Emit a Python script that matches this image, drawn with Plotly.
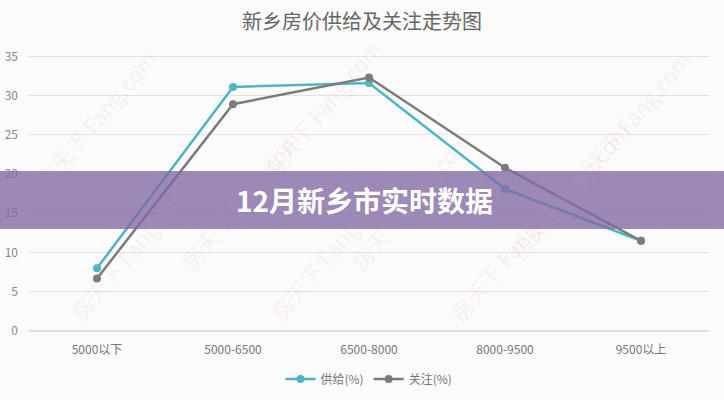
import plotly.graph_objects as go

categories = ["5000以下", "5000-6500", "6500-8000", "8000-9500", "9500以上"]
supply = [8.0, 31.1, 31.6, 18.1, 11.5]
attention = [6.7, 28.9, 32.3, 20.8, 11.5]
y_ticks = [0, 5, 10, 15, 20, 25, 30, 35]

title_text = "新乡房价供给及关注走势图"
band_text = "12月新乡市实时数据"

font_family = "Noto Sans CJK SC, Noto Sans, sans-serif"

fig = go.Figure()
fig.add_trace(go.Scatter(
    x=categories, y=supply, name="供给(%)", mode="lines+markers",
    line=dict(color="#4fb5bf", width=2.5),
    marker=dict(color="#4fb5bf", size=8),
))
fig.add_trace(go.Scatter(
    x=categories, y=attention, name="关注(%)", mode="lines+markers",
    line=dict(color="#7b7b7d", width=2.5),
    marker=dict(color="#7b7b7d", size=8),
))

W, H = 724, 400
ml, mr, mt, mb = 29, 15, 54, 69
pw, ph = W - ml - mr, H - mt - mb

# faint watermarks
wm_positions = [(25, 40), (250, 30), (700, 40), (170, 200), (410, 200),
                (640, 190), (60, 330), (330, 330), (580, 330)]
for (px, py) in wm_positions:
    fig.add_annotation(
        x=(px - ml) / pw, y=(H - mb - py) / ph, xref="paper", yref="paper",
        text="房天下 Fang.com", showarrow=False, textangle=-50,
        font=dict(family=font_family, size=22, color="rgba(225,150,150,0.12)"),
    )

fig.add_shape(
    type="rect", xref="paper", yref="paper",
    x0=-ml / pw, x1=1 + mr / pw,
    y0=(H - mb - 229) / ph, y1=(H - mb - 171) / ph,
    fillcolor="rgba(130,105,165,0.78)", line=dict(width=0), layer="above",
)
fig.add_annotation(
    x=(364 - ml) / pw, y=(H - mb - 200) / ph, xref="paper", yref="paper",
    xanchor="center", yanchor="middle",
    text=band_text, showarrow=False,
    font=dict(family=font_family, size=28, color="white", weight="bold"),
)
fig.add_annotation(
    x=(362 - ml) / pw, y=(H - mb - 20) / ph, xref="paper", yref="paper",
    xanchor="center", yanchor="middle",
    text=title_text, showarrow=False,
    font=dict(family=font_family, size=20, color="#666666"),
)

fig.update_layout(
    width=W, height=H,
    margin=dict(l=ml, r=mr, t=mt, b=mb, autoexpand=False),
    paper_bgcolor="#fbfbfb", plot_bgcolor="#fbfbfb",
    showlegend=True,
    legend=dict(orientation="h", x=0.5, xanchor="center",
                yref="container", y=(H - 379) / H, yanchor="middle",
                font=dict(family=font_family, size=12, color="#777"),
                itemwidth=30, tracegroupgap=0),
    font=dict(family=font_family),
)
fig.update_xaxes(
    type="category", range=[-0.5, 4.5], showgrid=False, showline=False,
    zeroline=False, automargin=False,
    tickfont=dict(size=12, color="#777"), ticks="", ticklabelstandoff=10,
)
fig.update_yaxes(
    range=[0, 35.3], tickvals=y_ticks, showgrid=True, gridcolor="#e2e2e2",
    gridwidth=1, zeroline=True, zerolinecolor="#dcdcdc", showline=False,
    automargin=False,
    tickfont=dict(size=12, color="#888"), ticklabelstandoff=10,
)

fig.write_html("out.html", config={"displayModeBar": False},
               post_script="document.body.style.margin='0';")
